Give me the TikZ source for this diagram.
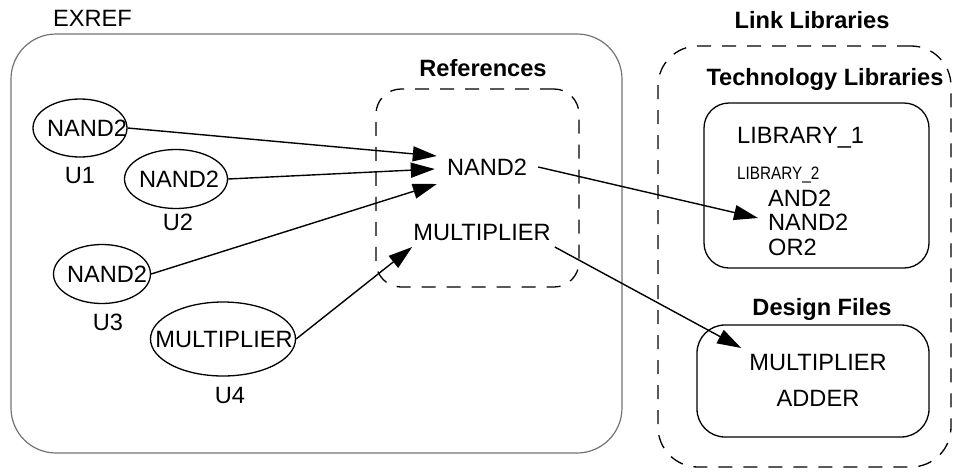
\documentclass[tikz,border=0pt]{standalone}
\usepackage{fontspec}
\setmainfont{Liberation Sans}
\usetikzlibrary{shapes.geometric,arrows.meta}
\begin{document}
\begin{tikzpicture}[x=1pt,y=-1pt,
  txt/.style={inner sep=0pt, font=\fontsize{23.6}{28}\selectfont, text height=17pt, text depth=0pt},
  ttl/.style={inner sep=0pt, font=\fontsize{23.6}{28}\selectfont\bfseries, text height=17pt, text depth=0pt},
  cell/.style={ellipse, draw, line width=1.3pt, inner sep=0pt},
  arr/.style={line width=1.4pt, -{Triangle[length=24pt,width=15pt]}},
  dbox/.style={draw, line width=1.3pt, dash pattern=on 14pt off 11pt},
  sbox/.style={draw, line width=1.3pt},
]
\useasboundingbox (0,0) rectangle (956,472);

% EXREF design
\node[draw=black!55, line width=1.2pt, rounded corners=45pt, minimum width=611pt, minimum height=419pt, inner sep=0pt] (exref) at (316.5,243.5) {};
\node[txt, anchor=west] (exreft) at (53,18) {EXREF};

% cells
\node[cell, minimum width=94pt, minimum height=58pt, label={[txt, xshift=7pt]center:NAND2}] (u1) at (80,128) {};
\node[txt] (u1l) at (80,175) {U1};
\node[cell, minimum width=103pt, minimum height=59pt, label={[txt, xshift=3pt]center:NAND2}] (u2) at (176,179) {};
\node[txt] (u2l) at (178,222) {U2};
\node[cell, minimum width=97pt, minimum height=59pt, label={[txt, xshift=5pt]center:NAND2}] (u3) at (102,274) {};
\node[txt] (u3l) at (108,322) {U3};
\node[cell, minimum width=145pt, minimum height=74pt, label={[txt, xshift=1pt]center:MULTIPLIER}] (u4) at (223,339) {};
\node[txt] (u4l) at (230,395) {U4};

% References
\node[dbox, rounded corners=25pt, minimum width=203pt, minimum height=198pt, inner sep=0pt] (refbox) at (477.5,188) {};
\node[ttl] (reft) at (483,68) {References};
\node[txt] (refnand) at (487,167) {NAND2};
\node[txt] (refmult) at (482,232) {MULTIPLIER};

% Link libraries
\node[dbox, rounded corners=40pt, minimum width=293pt, minimum height=421pt, inner sep=0pt] (linkbox) at (804.5,256.5) {};
\node[ttl] (linkt) at (812,20) {Link Libraries};
\node[ttl] (techt) at (825,77) {Technology Libraries};
\node[sbox, rounded corners=25pt, minimum width=225pt, minimum height=165pt, inner sep=0pt] (techbox) at (816.5,185.5) {};
\node[txt, anchor=west] (lib1) at (737,135) {LIBRARY\_1};
\node[inner sep=0pt, anchor=west] (lib2) at (737,175) {\scalebox{0.85}[1]{\fontsize{18}{20}\selectfont LIBRARY\_2}};
\node[txt, anchor=west] (liband) at (768,198) {AND2};
\node[txt, anchor=west] (libnand) at (768,222) {NAND2};
\node[txt, anchor=west] (libor) at (768,247) {OR2};

\node[ttl] (dest) at (822,307) {Design Files};
\node[sbox, rounded corners=28pt, minimum width=232pt, minimum height=112pt, inner sep=0pt] (desbox) at (813,381) {};
\node[txt] (dmult) at (818,362) {MULTIPLIER};
\node[txt] (dadd) at (818,398) {ADDER};

% connectors
\draw[arr] (u1.east) -- ([shift={(-10,-11)}]refnand.west);
\draw[arr] (u2.east) -- ([shift={(-12,2)}]refnand.west);
\draw[arr] (u3.east) -- ([shift={(-10,17)}]refnand.west);
\draw[arr] (u4.east) -- ([shift={(-1,15)}]refmult.west);
\draw[arr] ([shift={(11,0)}]refnand.east) -- ([shift={(-10,-4)}]libnand.west);
\draw[arr] ([shift={(4,15)}]refmult.east) -- ([shift={(-8,-14)}]dmult.west);
\end{tikzpicture}
\end{document}
